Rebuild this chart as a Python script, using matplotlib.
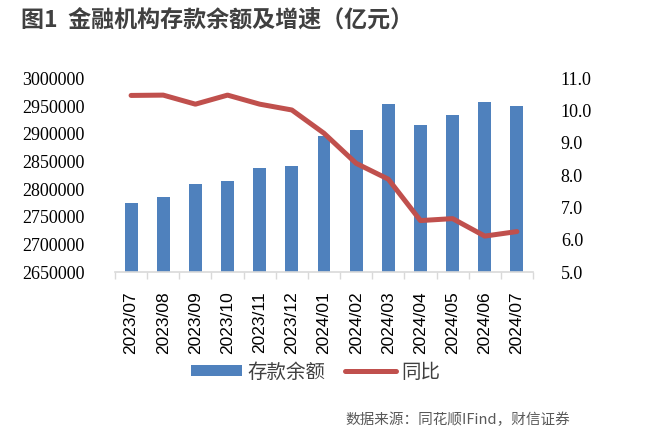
import matplotlib
matplotlib.use("Agg")
import matplotlib.pyplot as plt
import numpy as np
from matplotlib.lines import Line2D
from matplotlib.patches import Patch

plt.rcParams['font.family'] = ['Noto Sans CJK SC', 'DejaVu Sans']

categories = ["2023/07", "2023/08", "2023/09", "2023/10", "2023/11", "2023/12",
              "2024/01", "2024/02", "2024/03", "2024/04", "2024/05", "2024/06", "2024/07"]
deposits = [2775000, 2785500, 2809000, 2815500, 2839000, 2842500,
            2896000, 2906500, 2954000, 2916500, 2933500, 2957000, 2950500]
yoy = [10.47, 10.48, 10.2, 10.48, 10.2, 10.02, 9.3, 8.37, 7.88, 6.6, 6.66, 6.12, 6.26]
left_ticks = [2650000, 2700000, 2750000, 2800000, 2850000, 2900000, 2950000, 3000000]
right_ticks = [5.0, 6.0, 7.0, 8.0, 9.0, 10.0, 11.0]

bar_color = "#4F81BD"
line_color = "#C0504D"

fig = plt.figure(figsize=(6.48, 4.47), dpi=100)
ax = fig.add_axes([115/648, 1-272.3/447, (533-115)/648, (272.3-78.3)/447])
x = np.arange(len(categories))
ax.bar(x, deposits, width=0.4, color=bar_color, zorder=2)
ax.set_ylim(left_ticks[0], left_ticks[-1])
ax.set_xlim(-0.5, len(categories) - 0.5)
ax.set_yticks(left_ticks)
ax.set_yticklabels([str(v) for v in left_ticks], family='Liberation Serif', fontsize=13, color='#000000')
ax.tick_params(axis='y', length=0, pad=22)
ax.set_xticks(x)
ax.set_xticklabels(categories, rotation=90, family='Liberation Sans', fontsize=12.5, color='#000000')
ax.tick_params(axis='x', length=0, pad=14)
ax.set_xticks(np.arange(-0.5, len(categories)), minor=True)
ax.tick_params(axis='x', which='minor', length=5, color='#D9D9D9', width=1)
for s in ['top', 'left', 'right']:
    ax.spines[s].set_visible(False)
ax.spines['bottom'].set_color('#D9D9D9')
ax.spines['bottom'].set_linewidth(1.2)

ax2 = ax.twinx()
ax2.plot(x, yoy, color=line_color, linewidth=3.6, solid_capstyle='round', solid_joinstyle='round', zorder=3)
ax2.set_ylim(right_ticks[0], right_ticks[-1])
ax2.set_yticks(right_ticks)
ax2.set_yticklabels([f"{v:.1f}" for v in right_ticks], family='Liberation Serif', fontsize=13, color='#000000')
ax2.tick_params(axis='y', length=0, pad=20)
for s in ['top', 'left', 'right', 'bottom']:
    ax2.spines[s].set_visible(False)

handles = [Patch(facecolor=bar_color, edgecolor='none'),
           Line2D([0], [0], color=line_color, linewidth=3.6, solid_capstyle='round')]
fig.legend(handles, ["存款余额", "同比"], loc='center', bbox_to_anchor=(316/648, 1-372/447),
           ncol=2, frameon=False, fontsize=14, handlelength=2.6, handleheight=0.55,
           columnspacing=1.0, handletextpad=0.3, labelcolor='#404040', borderpad=0.2)

fig.text(21/648, 1-21/447, "图1  金融机构存款余额及增速（亿元）", fontsize=16.6, fontweight='bold',
         color='#404040', va='center', ha='left')
fig.text(345/648, 1-420/447, "数据来源：同花顺IFind，财信证券", fontsize=10.5,
         color='#595959', va='center', ha='left')

fig.savefig("out.png", dpi=100)
